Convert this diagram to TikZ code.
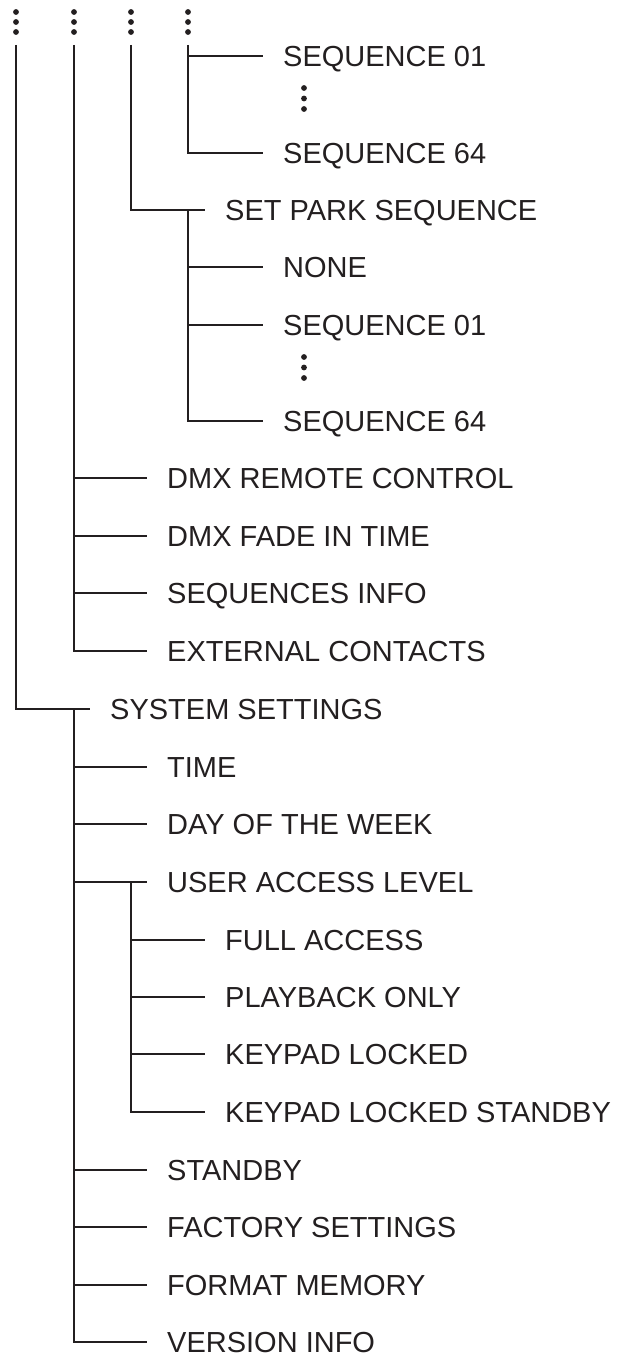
\documentclass[tikz,border=0pt]{standalone}
\usepackage{fontspec}
\setmainfont{Liberation Sans}
\definecolor{ink}{HTML}{231F20}
\begin{document}
\begin{tikzpicture}[x=1pt,y=-1pt,
  ln/.style={draw=ink,line width=2.9pt,line join=miter},
  br/.style={ln,shorten >=20pt},
  lbl/.style={anchor=west,inner sep=0pt,text height=20.6pt,text depth=0pt,text=ink,
    font=\fontsize{29}{31}\selectfont},
  dot/.style={circle,fill=ink,inner sep=0pt,minimum size=5.8pt}]
\useasboundingbox (0,0) rectangle (617,1356);
% top ellipsis dots
\foreach \c/\x in {0/16,1/74,2/131,3/188}{
  \node[dot] (d\c a) at (\x,12) {};
  \node[dot] (d\c b) at (\x,22) {};
  \node[dot] (d\c c) at (\x,32) {};
}
\coordinate (t0) at (16,45);
\coordinate (t1) at (74,45);
\coordinate (t2) at (131,45);
\coordinate (t3) at (188,45);
% level 3 (sequences)
\node[lbl] (sa01) at (283,56) {SEQUENCE 01};
\node[dot] (ea1) at (304,88) {};
\node[dot] (ea2) at (304,98.5) {};
\node[dot] (ea3) at (304,109) {};
\node[lbl] (sa64) at (283,153) {SEQUENCE 64};
\draw[br] (t3) |- (sa64.west);
\draw[br] (t3 |- sa01.west) -- (sa01.west);
% set park sequence
\node[lbl] (park) at (225,210) {SET PARK SEQUENCE};
\draw[br] (t2) |- (park.west);
\coordinate (pk) at (188,210);
\node[lbl] (none) at (283,267) {NONE};
\node[lbl] (sb01) at (283,325) {SEQUENCE 01};
\node[dot] (eb1) at (304,357) {};
\node[dot] (eb2) at (304,367.5) {};
\node[dot] (eb3) at (304,378) {};
\node[lbl] (sb64) at (283,421) {SEQUENCE 64};
\draw[br] (pk) |- (sb64.west);
\draw[br] (pk |- none.west) -- (none.west);
\draw[br] (pk |- sb01.west) -- (sb01.west);
% level 1
\node[lbl] (dmxr) at (167,478) {DMX REMOTE CONTROL};
\node[lbl] (dmxf) at (167,536) {DMX FADE IN TIME};
\node[lbl] (seqi) at (167,593) {SEQUENCES INFO};
\node[lbl] (extc) at (167,651) {EXTERNAL CONTACTS};
\draw[br] (t1) |- (extc.west);
\draw[br] (t1 |- dmxr.west) -- (dmxr.west);
\draw[br] (t1 |- dmxf.west) -- (dmxf.west);
\draw[br] (t1 |- seqi.west) -- (seqi.west);
% system settings
\node[lbl] (sys) at (110,709) {SYSTEM SETTINGS};
\draw[br] (t0) |- (sys.west);
\coordinate (sy) at (74,709);
\node[lbl] (time) at (167,767) {TIME};
\node[lbl] (day) at (167,824) {DAY OF THE WEEK};
\node[lbl] (ual) at (167,882) {USER ACCESS LEVEL};
\node[lbl] (stby) at (167,1170) {STANDBY};
\node[lbl] (fact) at (167,1227) {FACTORY SETTINGS};
\node[lbl] (fmt) at (167,1285) {FORMAT MEMORY};
\node[lbl] (ver) at (167,1342) {VERSION INFO};
\draw[br] (sy) |- (ver.west);
\foreach \n in {time,day,ual,stby,fact,fmt}{
  \draw[br] (sy |- \n.west) -- (\n.west);
}
% user access level
\coordinate (ua) at (131,882);
\node[lbl] (full) at (225,940) {FULL ACCESS};
\node[lbl] (play) at (225,997) {PLAYBACK ONLY};
\node[lbl] (kl) at (225,1054) {KEYPAD LOCKED};
\node[lbl] (kls) at (225,1112) {KEYPAD LOCKED STANDBY};
\draw[br] (ua) |- (kls.west);
\foreach \n in {full,play,kl}{
  \draw[br] (ua |- \n.west) -- (\n.west);
}
\end{tikzpicture}
\end{document}
